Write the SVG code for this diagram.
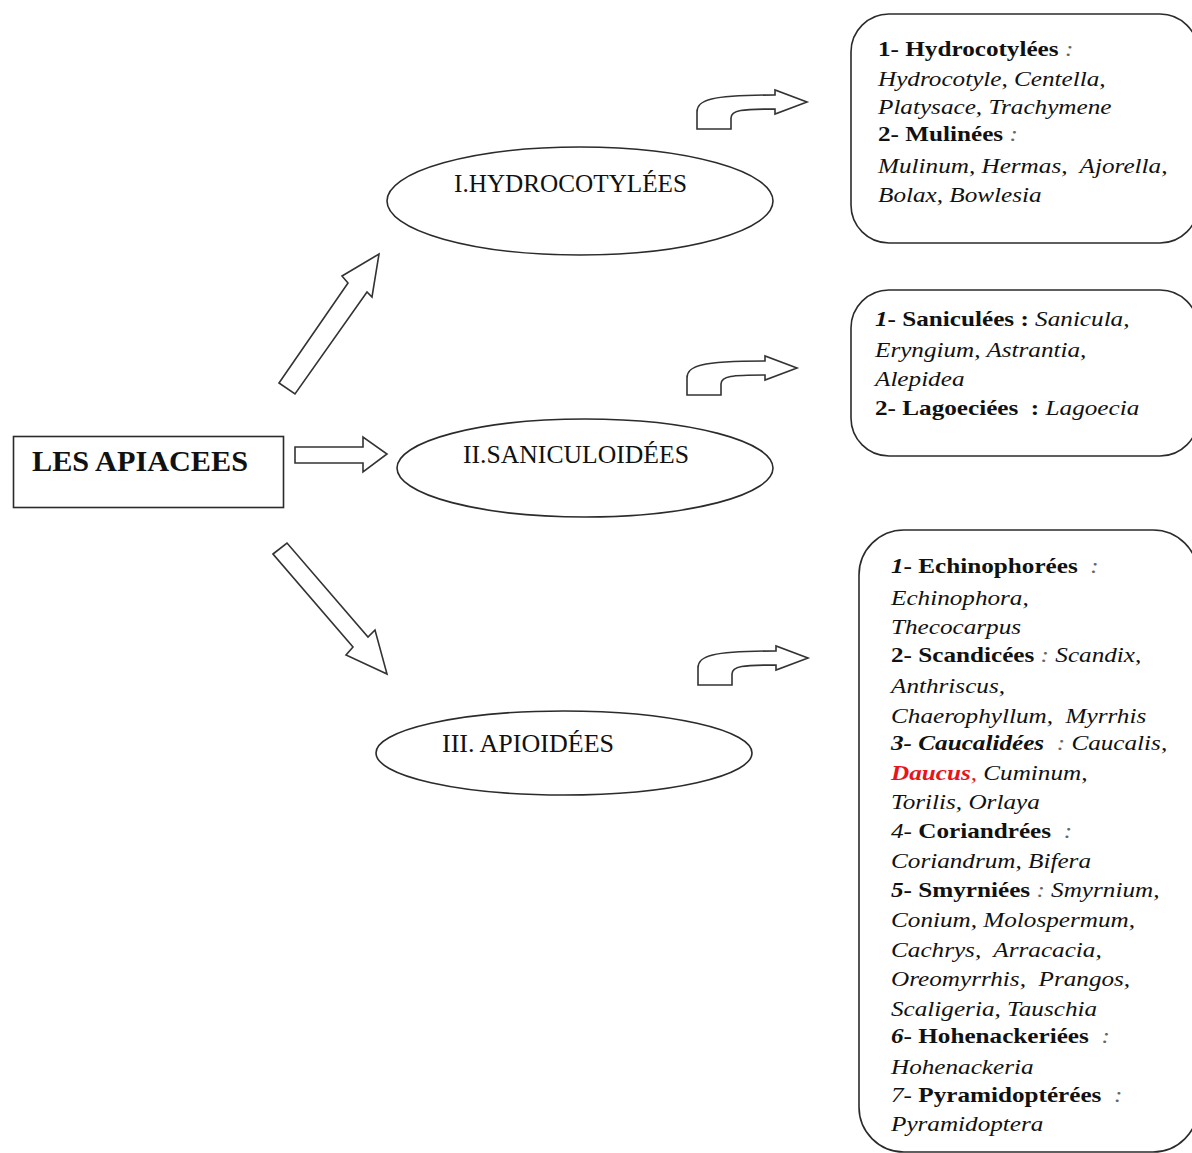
<svg xmlns="http://www.w3.org/2000/svg" width="1192" height="1153" viewBox="0 0 1192 1153">
<style>
  text { font-family: "Liberation Serif", "Times New Roman", serif; fill: #111; white-space: pre; }
  .node { fill: #fff; stroke: #2b2b2b; stroke-width: 1.6; }
  .arrow { fill: #fff; stroke: #333; stroke-width: 1.6; stroke-linejoin: miter; }
  .ell { font-size: 25px; }
  .lst { font-size: 21.7px; }
  .b { font-weight: bold; }
  .i { font-style: italic; }
  .c { font-style: italic; fill: #666; }
  .red { fill: #e8141c; }
</style>
<defs>
  <path id="bent" d="M697,129 L697,112 C697,100 710,95 775,95 L775,90 L807,102 L775,114 L775,109 C742,109 731,110 731,118 L731,129 Z"/>
</defs>
<rect width="1192" height="1153" fill="#fff"/>

<g id="connectors">
  <polygon class="arrow" points="295,447 363,447 363,437 387,454 363,472 363,463 295,463"/>
  <polygon class="arrow" points="279,383 348,283 342,276 379,254 372,297 367,292 295,394"/>
  <polygon class="arrow" points="273,554 287,543 368,637 375,630 387,674 346,655 353,647"/>
  <use href="#bent" class="arrow"/>
  <use href="#bent" class="arrow" transform="translate(-10,266)"/>
  <use href="#bent" class="arrow" transform="translate(1,556)"/>
</g>

<g id="root">
  <rect class="node" x="13.5" y="436.5" width="270" height="71"/>
  <text x="32" y="471" font-size="30" class="b" textLength="216" lengthAdjust="spacingAndGlyphs">LES APIACEES</text>
</g>

<g id="hydrocotylees">
  <ellipse class="node" cx="580" cy="201" rx="193" ry="54"/>
  <text class="ell" x="454" y="192" textLength="233" lengthAdjust="spacingAndGlyphs">I.HYDROCOTYLÉES</text>
</g>

<g id="saniculoidees">
  <ellipse class="node" cx="585" cy="468" rx="188" ry="49"/>
  <text class="ell" x="463" y="463" textLength="226" lengthAdjust="spacingAndGlyphs">II.SANICULOIDÉES</text>
</g>

<g id="apioidees">
  <ellipse class="node" cx="564" cy="753" rx="188" ry="42"/>
  <text class="ell" x="442" y="752" textLength="172" lengthAdjust="spacingAndGlyphs">III. APIOIDÉES</text>
</g>

<g id="box-hydrocotylees">
  <rect class="node" x="851" y="14" width="347" height="229" rx="38"/>
  <g transform="translate(878,0) scale(1.16,1)">
    <text class="lst" x="0" y="56"><tspan class="b">1- Hydrocotylées</tspan><tspan class="c"> :</tspan></text>
    <text class="lst i" x="0" y="86">Hydrocotyle, Centella,</text>
    <text class="lst i" x="0" y="114">Platysace, Trachymene</text>
    <text class="lst" x="0" y="141"><tspan class="b">2- Mulinées</tspan><tspan class="c"> :</tspan></text>
    <text class="lst i" x="0" y="173">Mulinum, Hermas,  Ajorella,</text>
    <text class="lst i" x="0" y="202">Bolax, Bowlesia</text>
  </g>
</g>

<g id="box-saniculoidees">
  <rect class="node" x="851" y="290" width="347" height="166" rx="38"/>
  <g transform="translate(875,0) scale(1.16,1)">
    <text class="lst" x="0" y="326"><tspan class="b i">1</tspan><tspan class="b">- Saniculées : </tspan><tspan class="i">Sanicula,</tspan></text>
    <text class="lst i" x="0" y="357">Eryngium, Astrantia,</text>
    <text class="lst i" x="0" y="386">Alepidea</text>
    <text class="lst" x="0" y="415"><tspan class="b">2- Lagoeciées  : </tspan><tspan class="i">Lagoecia</tspan></text>
  </g>
</g>

<g id="box-apioidees">
  <rect class="node" x="859" y="530" width="339" height="622" rx="45"/>
  <g transform="translate(891,0) scale(1.16,1)">
    <text class="lst" x="0" y="573"><tspan class="b i">1</tspan><tspan class="b">- Echinophorées</tspan><tspan class="c">  :</tspan></text>
    <text class="lst i" x="0" y="605">Echinophora,</text>
    <text class="lst i" x="0" y="634">Thecocarpus</text>
    <text class="lst" x="0" y="662"><tspan class="b">2- Scandicées</tspan><tspan class="c"> : </tspan><tspan class="i">Scandix,</tspan></text>
    <text class="lst i" x="0" y="693">Anthriscus,</text>
    <text class="lst i" x="0" y="723">Chaerophyllum,  Myrrhis</text>
    <text class="lst" x="0" y="750"><tspan class="b i">3- Caucalidées</tspan><tspan class="c">  : </tspan><tspan class="i">Caucalis,</tspan></text>
    <text class="lst i" x="0" y="780"><tspan class="b red">Daucus</tspan><tspan class="red">,</tspan> Cuminum,</text>
    <text class="lst i" x="0" y="809">Torilis, Orlaya</text>
    <text class="lst" x="0" y="838"><tspan class="i">4</tspan><tspan>- </tspan><tspan class="b">Coriandrées</tspan><tspan class="c">  :</tspan></text>
    <text class="lst i" x="0" y="868">Coriandrum, Bifera</text>
    <text class="lst" x="0" y="897"><tspan class="b i">5</tspan><tspan class="b">- Smyrniées</tspan><tspan class="c"> : </tspan><tspan class="i">Smyrnium,</tspan></text>
    <text class="lst i" x="0" y="927">Conium, Molospermum,</text>
    <text class="lst i" x="0" y="957">Cachrys,  Arracacia,</text>
    <text class="lst i" x="0" y="986">Oreomyrrhis,  Prangos,</text>
    <text class="lst i" x="0" y="1016">Scaligeria, Tauschia</text>
    <text class="lst" x="0" y="1043"><tspan class="b i">6</tspan><tspan class="b">- Hohenackeriées</tspan><tspan class="c">  :</tspan></text>
    <text class="lst i" x="0" y="1074">Hohenackeria</text>
    <text class="lst" x="0" y="1102"><tspan class="i">7</tspan><tspan>- </tspan><tspan class="b">Pyramidoptérées</tspan><tspan class="c">  :</tspan></text>
    <text class="lst i" x="0" y="1131">Pyramidoptera</text>
  </g>
</g>
</svg>
